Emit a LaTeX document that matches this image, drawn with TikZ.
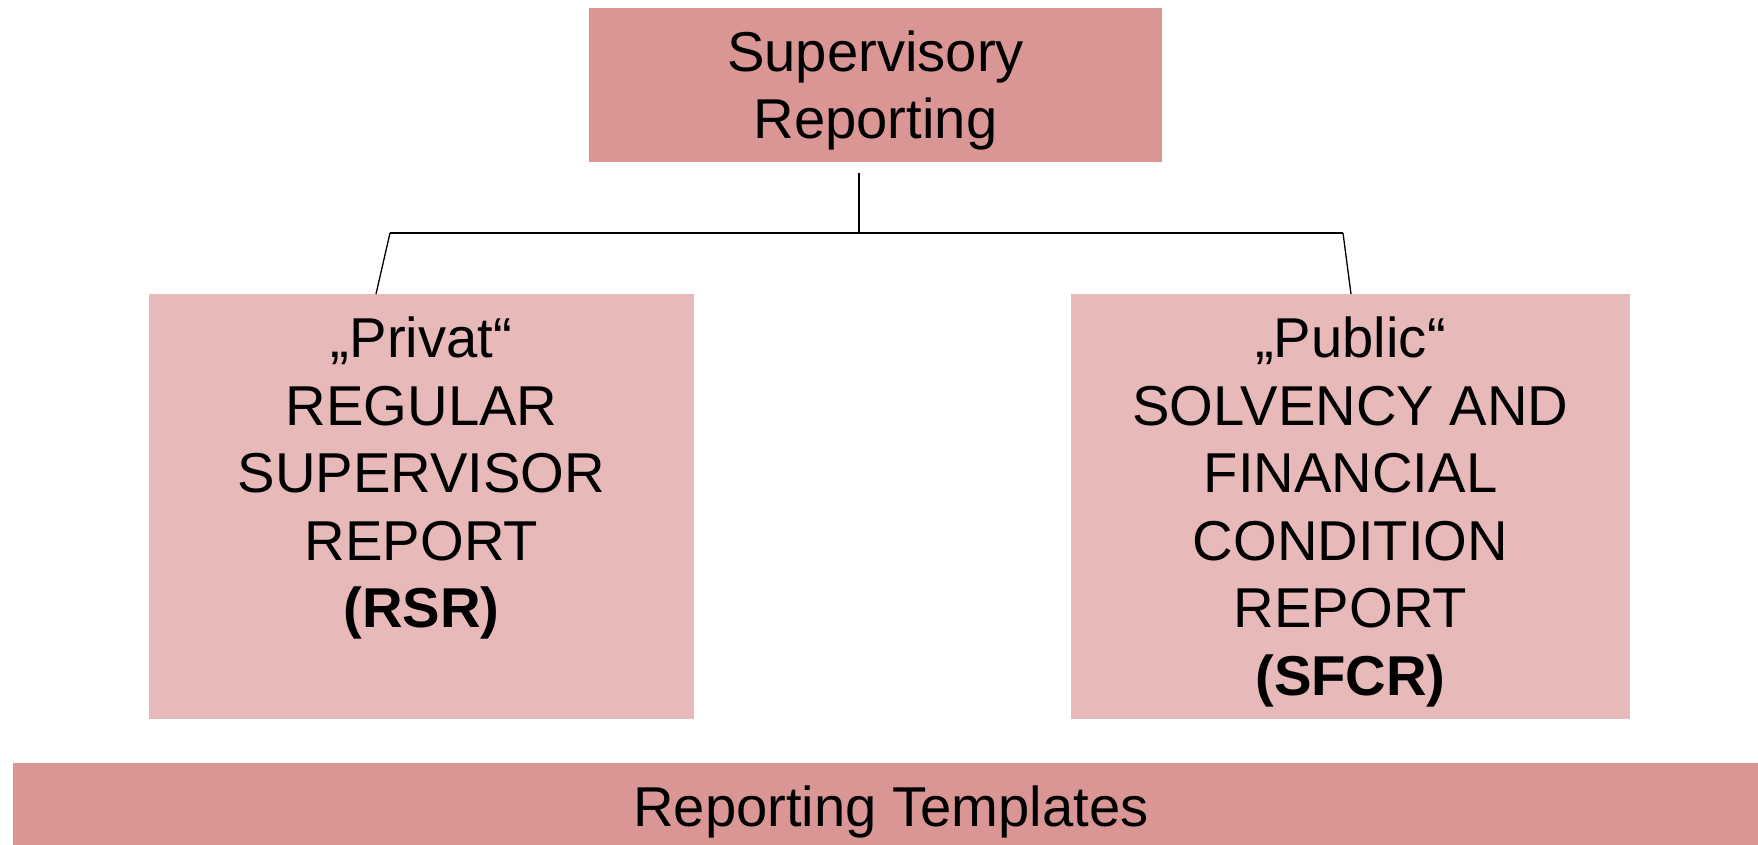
\documentclass[tikz,border=0pt]{standalone}
\usepackage{fontspec}
\setmainfont{Liberation Sans}
\usepackage{tikz}
\usetikzlibrary{positioning}

\definecolor{darkrose}{RGB}{218,149,149}
\definecolor{lightrose}{RGB}{231,185,185}

\tikzset{
    rosebox/.style={rectangle, inner sep=0pt, outer sep=0pt},
    boxtext/.style={align=center, inner sep=0pt, font=\fontsize{56.2}{67.5}\selectfont},
    branch/.style={line width=1.3pt, black},
}

\begin{document}
\begin{tikzpicture}[x=1pt, y=-1pt]

    \useasboundingbox (0, 0) rectangle (1758, 845);

    % boxes
    \node (head) [rosebox, fill=darkrose, minimum width=573pt, minimum height=154pt] at (875.5, 85) {};
    \node (rsrbox) [rosebox, fill=lightrose, minimum width=545pt, minimum height=425pt] at (421.5, 506.5) {};
    \node (sfcrbox) [rosebox, fill=lightrose, minimum width=559pt, minimum height=425pt] at (1350.5, 506.5) {};
    \node (templbox) [rosebox, fill=darkrose, minimum width=1745pt, minimum height=82pt] at (885.5, 804) {};

    % texts
    \node (headtext) [boxtext, below=22.5pt of head.north] {Supervisory\\Reporting};
    \node (rsr) [boxtext, below=23pt of rsrbox.north]
        {„Privat“\\REGULAR\\SUPERVISOR\\REPORT\\\textbf{(RSR)}};
    \node (sfcr) [boxtext, below=23pt of sfcrbox.north]
        {„Public“\\SOLVENCY AND\\FINANCIAL\\CONDITION\\REPORT\\\textbf{(SFCR)}};
    \node (templ) [inner sep=0pt, anchor=base, font=\fontsize{56.2}{67.5}\selectfont] at (891, 826) {Reporting Templates};

    % tree
    \coordinate (stem) at (859, 173);
    \coordinate (fork) at (859, 233);
    \coordinate (lbend) at (390, 233);
    \coordinate (rbend) at (1343, 233);

    \draw [branch] (stem) -- (fork);
    \draw [branch] (lbend) -- (rbend);
    \draw [branch] (lbend) -- ([xshift=-45.5pt]rsrbox.north);
    \draw [branch] (rbend) -- ([xshift=0.5pt]sfcrbox.north);

\end{tikzpicture}
\end{document}
